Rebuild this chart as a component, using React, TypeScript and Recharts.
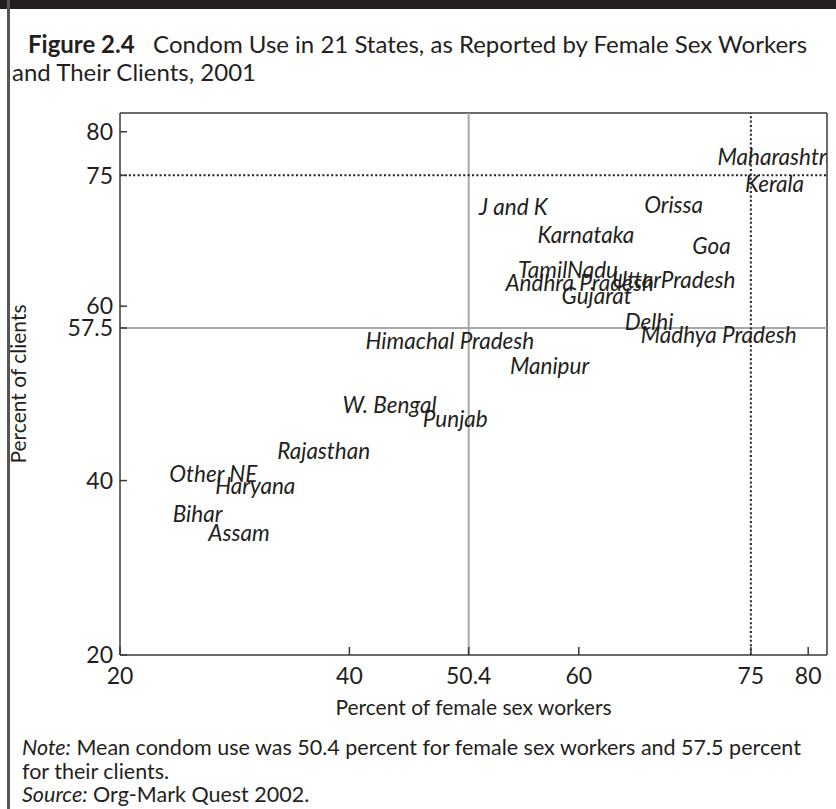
import { ScatterChart, Scatter, XAxis, YAxis, ReferenceLine, Label } from 'recharts'

// 21 states: percent of female sex workers (x) and clients (y) reporting condom use
const states = [
  'Maharashtra', 'Kerala', 'Orissa', 'J and K', 'Karnataka', 'Goa', 'TamilNadu',
  'Andhra Pradesh', 'UttarPradesh', 'Gujarat', 'Delhi', 'Madhya Pradesh',
  'Himachal Pradesh', 'Manipur', 'W. Bengal', 'Punjab', 'Rajasthan', 'Other NE',
  'Haryana', 'Bihar', 'Assam',
]
const fswPct = [
  72.1, 74.5, 65.7, 51.3, 56.4, 69.9, 54.7,
  53.6, 62.9, 58.5, 64.0, 65.4,
  41.4, 54.0, 39.4, 46.4, 33.7, 24.3,
  28.3, 24.6, 27.7,
]
const clientPct = [
  77.0, 73.9, 71.5, 71.2, 68.0, 66.8, 64.0,
  62.5, 62.9, 61.1, 58.1, 56.6,
  55.9, 53.0, 48.6, 47.0, 43.3, 40.6,
  39.3, 36.0, 33.9,
]

const xTicks = [20, 40, 50.4, 60, 75, 80]
const yTicks = [20, 40, 57.5, 60, 75, 80]
const fswMean = 50.4
const clientMean = 57.5
const target = 75
const xMin = 20
const xMax = 81.64
const yMin = 20
const yMax = 82.15

const data = states.map((name, i) => ({ name, fsw: fswPct[i], clients: clientPct[i] }))

const INK = '#231f20'
const AXIS = '#3a3a3a'
const MEAN = '#a7a9ac'
const FONT = 'Lato, "Open Sans", sans-serif'

function StateLabel(props: any) {
  const { cx, cy, payload } = props
  return (
    <text x={cx} y={cy} dy={7} fontSize={22.5} fontStyle="italic" fill={INK} fontFamily={FONT}>
      {payload.name}
    </text>
  )
}

const tickStyle = { fontSize: 23, fill: INK, fontFamily: FONT }

export default function App() {
  return (
    <div style={{ position: 'absolute', left: 0, top: 0, width: 836, height: 809, background: '#fff', fontFamily: FONT, color: INK }}>
      <div style={{ position: 'absolute', left: 0, top: 0, width: 836, height: 9, background: INK }} />
      <div style={{ position: 'absolute', left: 7, top: 0, width: 3, height: 809, background: '#555' }} />

      <div style={{ position: 'absolute', left: 12, top: 30, fontSize: 24, lineHeight: '28px', whiteSpace: 'nowrap' }}>
        <div style={{ paddingLeft: 16 }}>
          <b>Figure 2.4</b>&nbsp;&nbsp; Condom Use in 21 States, as Reported by Female Sex Workers
        </div>
        <div>and Their Clients, 2001</div>
      </div>

      <div style={{ position: 'absolute', left: 0, top: 0 }}>
        <ScatterChart width={836} height={730} margin={{ top: 113, right: 9, left: 0, bottom: 0 }}>
          <XAxis
            type="number"
            dataKey="fsw"
            domain={[xMin, xMax]}
            ticks={xTicks}
            interval={0}
            allowDataOverflow
            height={75}
            tickSize={-8}
            tickMargin={21}
            tick={tickStyle}
            stroke={AXIS}
            strokeWidth={1.5}
          >
            <Label value="Percent of female sex workers" position="insideBottom" offset={15} style={{ fontSize: 21, fill: INK, fontFamily: FONT }} />
          </XAxis>
          <YAxis
            type="number"
            dataKey="clients"
            domain={[yMin, yMax]}
            ticks={yTicks}
            interval={0}
            allowDataOverflow
            width={120}
            tickSize={-7}
            tickMargin={14}
            tick={tickStyle}
            stroke={AXIS}
            strokeWidth={1.5}
          >
            <Label value="Percent of clients" angle={-90} position="insideLeft" offset={19} style={{ fontSize: 21, fill: INK, fontFamily: FONT, textAnchor: 'middle' }} />
          </YAxis>
          <ReferenceLine x={xMax} stroke={AXIS} strokeWidth={1.5} />
          <ReferenceLine y={yMax} stroke={AXIS} strokeWidth={1.5} />
          <ReferenceLine x={fswMean} stroke={MEAN} strokeWidth={2} />
          <ReferenceLine y={clientMean} stroke={MEAN} strokeWidth={2} />
          <ReferenceLine x={target} stroke={INK} strokeWidth={2} strokeDasharray="2 2.4" />
          <ReferenceLine y={target} stroke={INK} strokeWidth={2} strokeDasharray="2 2.4" />
          <Scatter data={data} shape={StateLabel} isAnimationActive={false} />
        </ScatterChart>
      </div>

      <div style={{ position: 'absolute', left: 22, top: 736, fontSize: 21.5, lineHeight: '23.5px', whiteSpace: 'nowrap' }}>
        <div><i>Note:</i> Mean condom use was 50.4 percent for female sex workers and 57.5 percent</div>
        <div>for their clients.</div>
        <div><i>Source:</i> Org-Mark Quest 2002.</div>
      </div>
    </div>
  )
}
